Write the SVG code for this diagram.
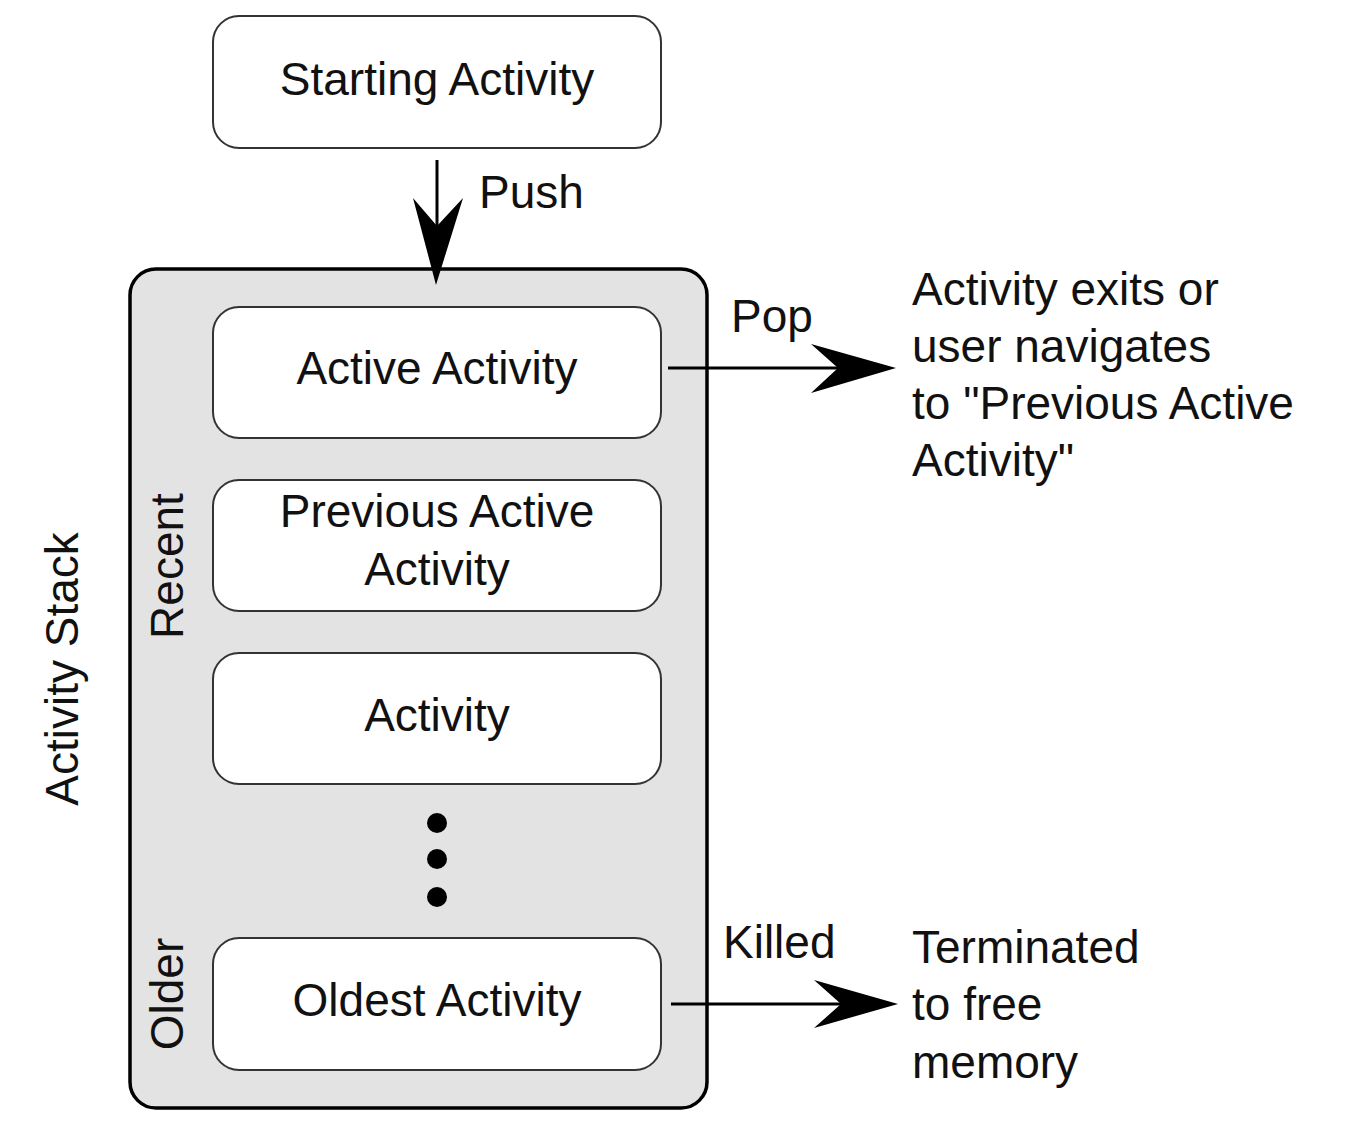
<svg xmlns="http://www.w3.org/2000/svg" width="1354" height="1125" viewBox="0 0 1354 1125">
  <style>
    text { font-family: "Liberation Sans", Arial, sans-serif; font-size: 46px; fill: #111; }
    .mid { text-anchor: middle; }
    .box { fill: #fff; stroke: #333; stroke-width: 2; }
    .stack { fill: #e3e3e3; stroke: #000; stroke-width: 3.5; }
    .conn { stroke: #000; stroke-width: 3; fill: none; }
    .head { fill: #000; }
  </style>
  <rect width="1354" height="1125" fill="#fff"/>

  <g id="starting-activity">
    <rect class="box" x="213" y="16" width="448" height="132" rx="26"/>
    <text class="mid" x="437" y="95">Starting Activity</text>
  </g>

  <g id="activity-stack">
    <rect class="stack" x="130" y="269" width="577" height="839" rx="26"/>
    <text class="mid" transform="translate(78 669) rotate(-90)">Activity Stack</text>
    <text class="mid" transform="translate(183 566) rotate(-90)">Recent</text>
    <text class="mid" transform="translate(183 994) rotate(-90)">Older</text>
  </g>

  <g id="active-activity">
    <rect class="box" x="213" y="307" width="448" height="131" rx="26"/>
    <text class="mid" x="437" y="384">Active Activity</text>
  </g>

  <g id="previous-active-activity">
    <rect class="box" x="213" y="480" width="448" height="131" rx="26"/>
    <text class="mid" x="437" y="527">Previous Active</text>
    <text class="mid" x="437" y="585">Activity</text>
  </g>

  <g id="activity">
    <rect class="box" x="213" y="653" width="448" height="131" rx="26"/>
    <text class="mid" x="437" y="731">Activity</text>
  </g>

  <g id="ellipsis">
    <circle cx="437" cy="823" r="10" fill="#000"/>
    <circle cx="437" cy="859" r="10" fill="#000"/>
    <circle cx="437" cy="897" r="10" fill="#000"/>
  </g>

  <g id="oldest-activity">
    <rect class="box" x="213" y="938" width="448" height="132" rx="26"/>
    <text class="mid" x="437" y="1016">Oldest Activity</text>
  </g>

  <g id="pop-result">
    <text x="912" y="305">Activity exits or</text>
    <text x="912" y="362">user navigates</text>
    <text x="912" y="419">to "Previous Active</text>
    <text x="912" y="476">Activity"</text>
  </g>

  <g id="killed-result">
    <text x="912" y="963">Terminated</text>
    <text x="912" y="1020">to free</text>
    <text x="912" y="1078">memory</text>
  </g>

  <g id="connectors">
    <!-- push -->
    <line class="conn" x1="437" y1="160" x2="437" y2="240"/>
    <polygon class="head" points="413,198 437,226 463,198 436,285"/>
    <text x="479" y="208">Push</text>
    <!-- pop -->
    <line class="conn" x1="668" y1="368" x2="850" y2="368"/>
    <polygon class="head" points="811,344 838,368 811,393 896,368"/>
    <text x="731" y="332">Pop</text>
    <!-- killed -->
    <line class="conn" x1="671" y1="1004" x2="850" y2="1004"/>
    <polygon class="head" points="814,980 841,1004 814,1028 898,1004"/>
    <text x="723" y="958">Killed</text>
  </g>
</svg>
